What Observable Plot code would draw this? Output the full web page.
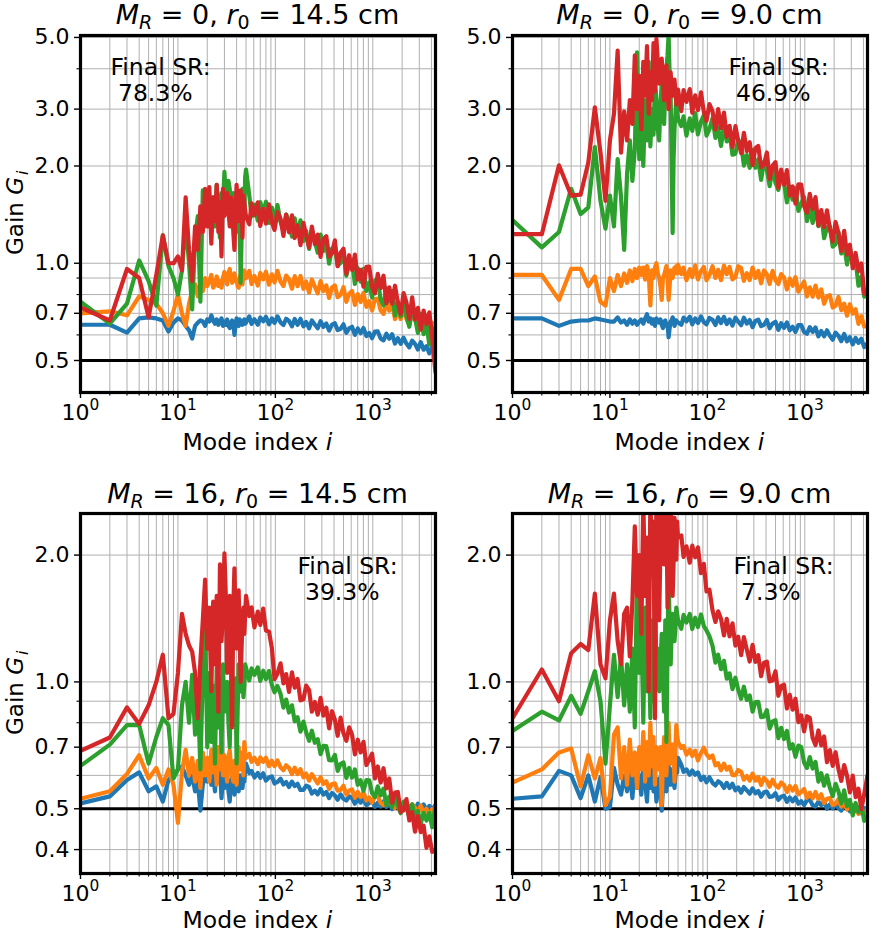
<!DOCTYPE html>
<html><head><meta charset="utf-8">
<script src="https://cdn.jsdelivr.net/npm/d3@7"></script>
<script src="https://cdn.jsdelivr.net/npm/@observablehq/plot@0.6"></script>
<style>
body{margin:0;background:#fff;}
#fig{position:relative;width:872px;height:934px;font-family:"DejaVu Sans",sans-serif;}
#fig svg{position:absolute;overflow:visible;}
</style></head><body><div id="fig"></div>
<script>
// Mode indices (every index to 50, then ~7% steps)
const modeIndex = [1,2,3,4,5,6,7,8,9,10,
11,12,13,14,15,16,17,18,19,20,
21,22,23,24,25,26,27,28,29,30,
31,32,33,34,35,36,37,38,39,40,
41,42,43,44,45,46,47,48,49,50,
54,57,61,66,70,75,80,86,92,98,
105,113,121,129,138,148,158,169,181,194,
207,222,237,254,272,291,311,333,356,381,
408,436,467,500,535,572,612,655,701,750,
802,859,919,983,1052,1125,1204,1288,1379,1475,
1578,1689,1807,1934,2069,2214,2369,2535,2712,2902,
3105,3322,3555,3804,4070,4400];

// Panel 1: M_R = 0, r0 = 14.5 cm
const tlBlue = [0.645,0.645,0.61,0.675,0.68,0.675,0.665,0.615,0.655,0.675,
0.665,0.64,0.62,0.585,0.64,0.655,0.665,0.66,0.64,0.67,
0.66,0.69,0.665,0.65,0.67,0.645,0.66,0.675,0.64,0.66,
0.645,0.67,0.64,0.63,0.655,0.665,0.65,0.60,0.64,0.675,
0.66,0.64,0.67,0.66,0.65,0.645,0.66,0.67,0.65,0.655,
.685,.649,.671,.645,.679,.661,.683,.647,.675,.653,
.685,.656,.644,.673,.663,.638,.672,.645,.673,.638,
.658,.629,.665,.646,.629,.662,.635,.651,.619,.646,
.652,.621,.627,.647,.609,.629,.636,.600,.628,.607,
.630,.595,.608,.586,.614,.615,.585,.577,.605,.584,
.603,.564,.586,.563,.588,.564,.549,.576,.563,.541,
.570,.540,.554,.526,.550,.532];
const tlOrange = [0.70,0.71,0.69,0.79,0.77,0.75,0.70,0.64,0.71,0.80,
0.70,0.64,0.75,0.82,0.86,0.79,0.87,0.82,0.90,0.85,
0.88,0.92,0.84,0.86,0.91,0.85,0.88,0.84,0.90,0.94,
0.90,0.86,0.93,0.96,0.90,0.87,0.91,0.93,0.88,0.89,
0.85,0.84,0.90,0.92,0.88,0.86,0.93,0.95,0.91,0.90,
.947,.862,.914,.853,.933,.891,.942,.858,.924,.872,
.947,.877,.850,.916,.893,.834,.912,.849,.913,.833,
.878,.811,.891,.847,.807,.881,.820,.854,.781,.841,
.853,.785,.798,.843,.760,.805,.821,.743,.803,.758,
.810,.733,.763,.714,.775,.777,.714,.697,.756,.713,
.752,.672,.718,.672,.723,.674,.644,.701,.674,.630,
.689,.629,.660,.604,.654,.618];
const tlGreen = [0.76,0.65,0.75,1.02,0.88,0.74,1.22,0.98,0.90,0.80,
0.95,1.35,1.00,0.72,1.20,1.40,0.76,1.68,1.30,1.45,
1.55,1.25,1.60,1.30,1.75,1.40,1.20,1.65,1.50,1.92,
1.60,1.45,1.80,1.70,1.50,1.35,1.65,1.60,1.30,1.25,
1.55,1.55,1.40,0.87,1.20,1.70,1.60,1.45,1.85,1.95,
1.62,1.396,1.518,1.355,1.546,1.433,1.551,1.334,1.486,1.352,
1.515,1.341,1.269,1.415,1.352,1.208,1.377,1.225,1.358,1.170,
1.259,1.107,1.271,1.169,1.078,1.226,1.091,1.154,0.997,1.110,
1.126,0.984,1.002,1.082,0.915,0.993,1.015,0.863,0.966,0.877,
0.961,0.821,0.871,0.783,0.885,0.884,0.773,0.741,0.836,0.761,
0.821,0.689,0.761,0.685,0.765,0.686,0.636,0.723,0.679,0.609,
0.697,0.603,0.646,0.560,0.630,0.576];
const tlRed = [0.73,0.665,0.96,0.90,0.68,0.92,1.22,1.00,1.00,1.05,
0.95,1.60,1.10,0.88,1.30,1.10,1.50,1.25,1.70,1.30,
1.72,1.15,1.60,1.35,1.75,1.25,1.55,1.05,1.70,1.40,
1.50,1.65,1.45,1.30,1.60,1.55,1.25,1.10,1.45,1.75,
1.50,1.35,1.60,1.68,1.50,1.20,1.62,1.55,1.45,1.40,
1.320,1.533,1.408,1.543,1.304,1.474,1.327,1.522,1.338,1.268,
1.439,1.374,1.215,1.415,1.247,1.407,1.197,1.308,1.137,1.334,
1.220,1.119,1.299,1.146,1.227,1.047,1.187,1.213,1.048,1.074,
1.177,0.979,1.078,1.110,0.928,1.059,0.954,1.063,0.891,0.954,
0.846,0.975,0.977,0.843,0.807,0.927,0.837,0.915,0.752,0.842,
0.750,0.852,0.756,0.697,0.808,0.756,0.672,0.784,0.670,0.728,
0.623,0.714,0.648,0.705,0.589,0.46];

// Panel 2: M_R = 0, r0 = 9.0 cm
const trBlue = [0.675,0.675,0.64,0.66,0.665,0.665,0.675,0.67,0.665,0.66,
0.66,0.68,0.655,0.665,0.645,0.67,0.65,0.665,0.645,0.66,
0.67,0.65,0.675,0.695,0.66,0.675,0.65,0.67,0.64,0.675,
0.66,0.655,0.67,0.645,0.63,0.66,0.665,0.64,0.65,0.59,
0.63,0.66,0.665,0.68,0.67,0.64,0.655,0.665,0.66,0.655,
.645,.679,.661,.683,.647,.675,.653,.685,.657,.647,
.677,.668,.644,.680,.653,.682,.648,.670,.641,.678,
.660,.643,.678,.650,.667,.634,.663,.669,.639,.645,
.667,.629,.651,.659,.622,.652,.631,.656,.620,.636,
.613,.643,.644,.613,.605,.634,.613,.633,.594,.617,
.594,.620,.596,.580,.610,.596,.574,.604,.573,.590,
.561,.587,.567,.584,.550,.565];
const trOrange = [0.92,0.92,0.77,0.96,0.96,0.85,0.91,0.76,0.74,0.90,
0.82,0.92,0.85,0.93,0.87,0.95,0.88,0.96,0.90,0.97,
0.92,0.97,0.89,0.98,0.93,0.74,0.95,0.90,0.97,1.00,
0.93,0.90,0.85,0.77,0.90,0.92,0.95,0.98,0.90,0.77,
0.85,0.95,0.92,0.90,0.94,0.97,0.95,0.98,0.93,0.99,
.925,.969,.886,.959,.906,.984,.891,.945,.974,.886,
.920,.979,.901,.954,.886,.984,.925,.974,.891,.906,
.979,.966,.882,.932,.887,.970,.901,.946,.867,.950,
.924,.863,.947,.886,.862,.926,.903,.830,.897,.852,
.905,.817,.846,.878,.789,.842,.788,.853,.783,.830,
.749,.790,.797,.729,.740,.786,.716,.750,.688,.747,
.698,.720,.649,.686,.637,.640];
const trGreen = [1.36,1.12,1.25,1.70,1.42,1.49,2.29,1.56,1.28,1.62,
1.30,2.10,1.60,1.10,1.90,2.40,1.80,2.25,4.50,2.10,
2.80,2.00,3.20,2.40,4.20,2.30,3.00,2.50,3.70,3.20,
2.60,2.40,3.10,3.60,2.90,2.70,3.50,4.00,4.40,5.10,
3.80,3.30,2.00,1.24,2.10,2.60,2.90,3.20,3.00,2.80,
2.657,2.851,2.484,2.808,2.570,2.916,2.506,2.743,2.873,2.484,
2.599,2.814,2.443,2.632,2.306,2.661,2.382,2.531,2.168,2.183,
2.412,2.339,2.006,2.162,1.975,2.241,1.975,2.101,1.812,2.059,
1.946,1.733,1.983,1.775,1.687,1.865,1.776,1.542,1.723,1.573,
1.706,1.453,1.524,1.604,1.351,1.486,1.333,1.495,1.302,1.413,
1.196,1.291,1.302,1.126,1.146,1.247,1.072,1.141,0.991,1.114,
0.994,1.022,0.852,0.905,0.788,0.80];
const trRed = [1.23,1.23,2.01,1.62,1.63,2.05,3.04,2.20,1.56,2.40,
2.90,4.55,2.20,2.95,2.40,3.20,2.70,4.40,3.00,3.80,
2.60,4.20,3.30,4.70,2.90,3.90,3.20,4.80,3.40,4.95,
4.20,3.60,3.80,4.30,3.70,3.20,3.90,4.10,3.50,3.00,
3.60,3.90,3.40,3.30,3.50,3.70,3.40,3.10,3.30,3.45,
2.958,3.437,3.159,3.459,2.925,3.310,2.980,3.379,2.940,2.757,
3.109,2.952,2.594,3.002,2.620,2.928,2.463,2.664,2.288,2.656,
2.40,2.192,2.533,2.224,2.369,2.011,2.270,2.307,1.983,2.021,
2.202,1.825,2.005,2.056,1.714,1.950,1.751,1.942,1.622,1.729,
1.529,1.754,1.751,1.504,1.434,1.640,1.473,1.602,1.310,1.461,
1.293,1.457,1.280,1.168,1.342,1.242,1.092,1.260,1.063,1.141,
0.965,1.076,0.947,0.998,0.806,0.80];

// Panel 3: M_R = 16, r0 = 14.5 cm
const blBlue = [0.515,0.535,0.585,0.61,0.55,0.565,0.52,0.585,0.60,0.62,
0.63,0.60,0.57,0.60,0.55,0.58,0.495,0.57,0.60,0.58,
0.62,0.57,0.60,0.55,0.64,0.58,0.62,0.53,0.60,0.56,
0.57,0.60,0.55,0.52,0.58,0.59,0.62,0.54,0.56,0.61,
0.57,0.55,0.60,0.60,0.56,0.56,0.59,0.58,0.62,0.64,
.608,.615,.593,.608,.592,.607,.583,.593,.597,.574,
.579,.589,.571,.579,.563,.580,.566,.573,.554,.554,
.567,.563,.543,.552,.541,.557,.540,.548,.530,.545,
.538,.525,.541,.528,.523,.535,.530,.514,.527,.517,
.527,.510,.516,.523,.505,.517,.506,.520,.505,.516,
.499,.510,.513,.499,.503,.516,.501,.511,.497,.514,
.503,.512,.496,.508,.498,.510];
const blOrange = [0.528,0.55,0.605,0.67,0.59,0.625,0.57,0.62,0.57,0.463,
0.61,0.69,0.60,0.66,0.58,0.65,0.56,0.68,0.60,0.66,
0.58,0.69,0.61,0.66,0.57,0.70,0.62,0.72,0.60,0.67,
0.62,0.58,0.66,0.69,0.63,0.60,0.58,0.65,0.62,0.57,
0.66,0.70,0.64,0.62,0.67,0.68,0.60,0.72,0.68,0.66,
.675,.646,.661,.638,.662,.646,.661,.631,.650,.631,
.651,.627,.617,.634,.625,.604,.626,.604,.621,.594,
.606,.583,.604,.589,.574,.594,.573,.581,.557,.572,
.574,.552,.554,.567,.540,.552,.556,.531,.548,.533,
.547,.523,.532,.517,.536,.536,.516,.510,.529,.515,
.527,.502,.516,.502,.518,.503,.493,.512,.503,.488,
.509,.489,.500,.481,.499,.488];
const blGreen = [0.632,0.71,0.79,0.79,0.64,0.74,0.82,0.79,0.59,0.62,
0.88,1.00,0.80,1.04,0.75,0.95,0.62,1.05,1.42,0.70,
1.05,0.72,0.98,0.64,1.08,0.78,1.02,0.68,1.10,0.85,
0.95,1.00,0.80,0.70,0.98,1.05,0.88,0.80,1.02,0.64,
0.85,1.10,1.00,0.95,1.08,1.05,0.92,0.98,1.10,1.08,
1.008,1.077,1.039,1.083,1.005,1.063,1.015,1.061,0.984,0.945,
0.978,0.937,0.869,0.908,0.846,0.880,0.806,0.824,0.762,0.805,
0.760,0.725,0.766,0.717,0.731,0.674,0.705,0.704,0.652,0.651,
0.671,0.615,0.639,0.644,0.592,0.625,0.593,0.620,0.570,0.584,
0.552,0.585,0.584,0.545,0.533,0.565,0.538,0.558,0.510,0.534,
0.505,0.535,0.506,0.488,0.520,0.504,0.478,0.512,0.476,0.494,
0.461,0.489,0.469,0.489,0.452,0.51];
const blRed = [0.686,0.738,0.87,0.795,0.88,1.00,1.16,0.82,0.84,1.05,
1.45,1.30,1.22,1.18,1.05,0.82,1.12,1.40,1.75,1.20,
1.50,0.95,1.55,1.10,1.60,0.85,1.90,1.25,1.45,2.02,
1.60,1.05,1.30,1.60,1.10,0.78,1.50,1.86,1.40,1.20,
1.55,1.65,1.25,1.00,1.20,1.40,1.50,1.30,1.45,1.60,
1.433,1.503,1.347,1.468,1.366,1.492,1.324,1.316,1.205,1.015,
1.046,1.107,0.992,1.044,0.947,1.054,0.969,1.016,0.904,0.909,
0.980,0.956,0.850,0.896,0.836,0.917,0.832,0.869,0.776,0.852,
0.814,0.745,0.823,0.755,0.725,0.780,0.750,0.673,0.729,0.680,
0.721,0.635,0.654,0.676,0.590,0.630,0.577,0.624,0.559,0.590,
0.517,0.546,0.548,0.491,0.496,0.527,0.469,0.491,0.441,0.480,
0.440,0.456,0.404,0.430,0.395,0.40];

// Panel 4: M_R = 16, r0 = 9.0 cm
const brBlue = [0.528,0.535,0.615,0.60,0.53,0.60,0.52,0.595,0.50,0.505,
0.625,0.57,0.54,0.60,0.55,0.61,0.53,0.63,0.56,0.60,
0.54,0.64,0.58,0.52,0.62,0.56,0.65,0.55,0.60,0.52,
0.55,0.59,0.57,0.495,0.56,0.60,0.58,0.55,0.60,0.63,
0.57,0.57,0.62,0.61,0.58,0.56,0.60,0.62,0.61,0.66,
.636,.612,.620,.602,.616,.602,.610,.585,.596,.578,
.594,.576,.568,.581,.575,.560,.576,.560,.573,.553,
.562,.546,.563,.553,.543,.559,.544,.551,.534,.547,
.549,.533,.535,.544,.525,.534,.537,.519,.532,.521,
.532,.514,.521,.510,.524,.525,.510,.506,.520,.510,
.519,.500,.512,.501,.514,.502,.495,.510,.504,.493,
.509,.494,.503,.488,.502,.493];
const brOrange = [0.577,0.62,0.68,0.695,0.565,0.67,0.59,0.66,0.51,0.535,
0.75,0.78,0.59,0.70,0.57,0.73,0.60,0.68,0.56,0.70,
0.62,0.76,0.58,0.72,0.60,0.80,0.63,0.74,0.57,0.70,
0.66,0.62,0.70,0.51,0.65,0.74,0.70,0.60,0.72,0.80,
0.68,0.64,0.70,0.71,0.66,0.58,0.70,0.79,0.75,0.72,
.697,.705,.672,.690,.667,.687,.651,.678,.698,.674,
.660,.669,.634,.641,.617,.640,.619,.629,.601,.601,
.618,.612,.586,.598,.583,.606,.583,.595,.569,.592,
.582,.564,.586,.568,.561,.577,.569,.548,.566,.552,
.566,.541,.548,.557,.531,.546,.529,.548,.527,.541,
.516,.528,.530,.510,.513,.527,.506,.516,.498,.516,
.501,.508,.486,.498,.482,.500];
const brGreen = [0.765,0.85,0.81,0.926,0.84,0.95,1.06,0.90,0.64,0.88,
1.16,0.92,1.15,0.88,1.10,0.85,1.20,0.78,1.90,1.05,
1.35,0.80,1.50,0.95,1.25,0.82,1.40,0.90,1.55,1.10,
1.20,0.95,1.10,1.30,1.05,0.85,1.40,0.72,1.20,1.83,
1.35,1.10,1.30,1.45,1.40,1.25,1.35,1.50,1.45,1.40,
1.337,1.442,1.383,1.449,1.335,1.420,1.350,1.446,1.357,1.324,
1.284,1.218,1.111,1.160,1.072,1.122,1.018,1.048,0.961,1.023,
0.960,0.912,0.974,0.906,0.928,0.850,0.896,0.897,0.825,0.827,
0.857,0.775,0.806,0.811,0.735,0.778,0.732,0.765,0.694,0.711,
0.664,0.706,0.700,0.644,0.625,0.663,0.623,0.646,0.580,0.607,
0.567,0.600,0.561,0.536,0.573,0.550,0.515,0.553,0.507,0.525,
0.482,0.516,0.491,0.512,0.468,0.48];
const brRed = [0.82,1.07,0.90,1.17,1.23,1.19,1.62,1.10,1.02,1.40,
1.62,1.25,1.10,1.45,1.50,1.15,1.55,2.34,1.60,2.00,
1.30,2.70,1.60,2.20,0.95,2.80,1.80,2.40,0.82,2.90,
2.40,1.40,2.10,2.80,2.20,1.90,2.70,2.60,1.50,1.70,
2.30,2.90,2.00,1.60,1.90,2.45,2.10,1.95,2.40,2.20,
2.226,1.980,2.097,1.918,2.105,1.976,2.087,1.812,1.906,1.639,
1.654,1.477,1.388,1.471,1.413,1.289,1.412,1.283,1.377,1.220,
1.280,1.157,1.277,1.193,1.118,1.224,1.116,1.157,1.032,1.111,
1.117,1.003,1.008,1.060,0.927,0.977,0.985,0.865,0.932,0.859,
0.912,0.803,0.833,0.763,0.829,0.822,0.736,0.708,0.767,0.707,
0.742,0.645,0.689,0.632,0.681,0.621,0.582,0.635,0.599,0.547,
0.599,0.533,0.558,0.499,0.542,0.60];

// Tick values
const xMajorTicks = [1, 10, 100, 1000];
const xMinorTicks = [2,3,4,5,6,7,8,9,20,30,40,50,60,70,80,90,200,300,400,500,600,700,800,900,2000,3000,4000];
const yTicksTop = [0.5, 0.7, 1.0, 2.0, 3.0, 5.0];
const yMinorTop = [0.6, 0.8, 0.9, 4.0];
const yTicksBottom = [0.4, 0.5, 0.7, 1.0, 2.0];
const yMinorBottom = [0.6, 0.8, 0.9];
const seriesColors = ["#1f77b4", "#ff7f0e", "#2ca02c", "#d62728"];

const W = 436, H = 467;
const rows = [
  {top: 0, mt: 35, mb: 75, domain: [0.398, 5.07], ticks: yTicksTop, minor: yMinorTop, titleY: 24, xlabY: 450, srDy: 21, ylabStart: 255},
  {top: 467, mt: 46, mb: 61, domain: [0.351, 2.51], ticks: yTicksBottom, minor: yMinorBottom, titleY: 36, xlabY: 461, srDy: 42, ylabStart: 268}
];
const cols = [
  {left: 0, ml: 80, mr: 1},
  {left: 436, ml: 76, mr: 5}
];
const panels = [
  {row: 0, col: 0, mr: "0", r0: "14.5", sr: "78.3%", srDx: 30, series: [tlBlue, tlOrange, tlGreen, tlRed]},
  {row: 0, col: 1, mr: "0", r0: "9.0", sr: "46.9%", srDx: 216, series: [trBlue, trOrange, trGreen, trRed]},
  {row: 1, col: 0, mr: "16", r0: "14.5", sr: "39.3%", srDx: 217, series: [blBlue, blOrange, blGreen, blRed]},
  {row: 1, col: 1, mr: "16", r0: "9.0", sr: "7.3%", srDx: 221, series: [brBlue, brOrange, brGreen, brRed]}
];

const fig = document.getElementById("fig");
const FS = 22, LFS = 23.5, TFS = 27;

for (const p of panels) {
  const row = rows[p.row], col = cols[p.col];
  const gridY = [...row.ticks, ...row.minor];
  const lines = p.series.map((ys, k) =>
    Plot.line(modeIndex.map((x, j) => ({x, y: ys[j]})), {
      x: "x", y: "y", stroke: seriesColors[k], strokeWidth: 4.2, clip: true, strokeLinejoin: "round"
    }));
  const svg = Plot.plot({
    width: W, height: H,
    marginLeft: col.ml, marginRight: col.mr, marginTop: row.mt, marginBottom: row.mb,
    style: {fontFamily: "DejaVu Sans", fontSize: FS + "px", background: "transparent", color: "black"},
    x: {type: "log", domain: [1, 4400]},
    y: {type: "log", domain: row.domain},
    marks: [
      Plot.ruleX([...xMajorTicks, ...xMinorTicks], {stroke: "#b0b0b0", strokeWidth: 1}),
      Plot.ruleY(gridY, {stroke: "#b0b0b0", strokeWidth: 1}),
      Plot.ruleY([0.5], {stroke: "black", strokeWidth: 2.8}),
      ...lines,
      Plot.text(["Final SR:\n\u00a0" + p.sr], {
        text: d => d, frameAnchor: "top-left", dx: p.srDx, dy: row.srDy,
        textAnchor: "start", lineAnchor: "top", lineHeight: 1.1, fontSize: LFS, fill: "black"
      }),
      Plot.frame({stroke: "black", strokeWidth: 3.2}),
      Plot.axisX(xMajorTicks, {tickSize: 6, tickPadding: 6, strokeWidth: 1.4, fontSize: FS,
        tickFormat: d => "10^" + Math.round(Math.log10(d)), label: null}),
      Plot.axisX(xMinorTicks, {tickSize: 3.5, strokeWidth: 1.1, tickFormat: () => "", label: null}),
      Plot.axisY(row.ticks, {tickSize: 6, tickPadding: 5, strokeWidth: 1.4, fontSize: FS,
        tickFormat: d => d.toFixed(1), label: null}),
      Plot.axisY(row.minor, {tickSize: 3.5, strokeWidth: 1.1, tickFormat: () => "", label: null})
    ]
  });
  svg.style.left = col.left + "px";
  svg.style.top = row.top + "px";
  const s = d3.select(svg);
  // superscript exponents on the x tick labels
  s.selectAll("text").each(function () {
    const m = /^10\^(\d)$/.exec(this.textContent);
    if (m) {
      const el = d3.select(this);
      el.text(null);
      el.append("tspan").text("10");
      el.append("tspan").attr("font-size", "0.7em").attr("dy", "-0.65em").text(m[1]);
    }
  });
  const cx = col.ml + (W - col.ml - col.mr) / 2;
  // title
  const t = s.append("text").attr("x", cx).attr("y", row.titleY).attr("text-anchor", "middle")
    .attr("font-size", TFS).attr("font-family", "DejaVu Sans").attr("fill", "black").style("white-space", "pre");
  t.append("tspan").attr("font-style", "italic").text("M");
  t.append("tspan").attr("font-style", "italic").attr("font-size", 19).attr("dy", 5).text("R");
  t.append("tspan").attr("dy", -5).text(" = " + p.mr + ", ");
  t.append("tspan").attr("font-style", "italic").text("r");
  t.append("tspan").attr("font-size", 19).attr("dy", 5).text("0");
  t.append("tspan").attr("dy", -5).text(" = " + p.r0 + " cm");
  // x label
  const xl = s.append("text").attr("x", cx).attr("y", row.xlabY).attr("text-anchor", "middle")
    .attr("font-size", LFS).attr("font-family", "DejaVu Sans").attr("fill", "black").style("white-space", "pre");
  xl.append("tspan").text("Mode index ");
  xl.append("tspan").attr("font-style", "italic").text("i");
  // y label
  if (p.col === 0) {
    const yl = s.append("text").attr("transform", `translate(22.5,${row.ylabStart}) rotate(-90)`).attr("text-anchor", "start")
      .attr("font-size", 23).attr("font-family", "DejaVu Sans").attr("fill", "black").style("white-space", "pre");
    yl.append("tspan").text("Gain ");
    yl.append("tspan").attr("font-style", "italic").text("G");
    yl.append("tspan").attr("font-style", "italic").attr("font-size", 16).attr("dx", 2).attr("dy", 5).text("i");
  }
  fig.appendChild(svg);
}
</script>
</body></html>
